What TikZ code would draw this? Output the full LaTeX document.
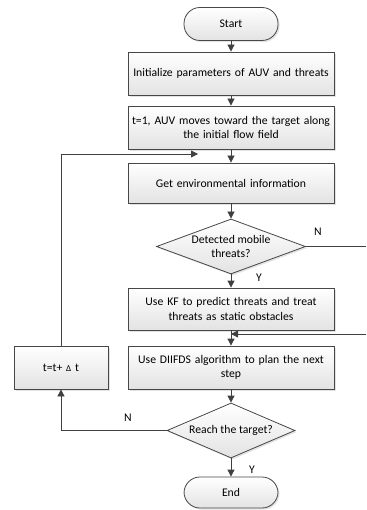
\documentclass[tikz,border=0pt]{standalone}
\usepackage{fontspec}
\setmainfont{Carlito}
\usepackage{tikz}
\usetikzlibrary{arrows.meta, shapes.geometric, shadows}

\tikzset{
    base/.style={draw=black!72, line width=0.8pt, top color=white, bottom color=black!11,
        drop shadow={shadow xshift=1.6pt, shadow yshift=-1.6pt, fill=black!18, opacity=0.6},
        align=center, font=\fontsize{11.7}{14.5}\selectfont, inner sep=0pt},
    procbox/.style={base, rectangle, minimum width=206pt, minimum height=43pt, text width=200pt},
    termbox/.style={base, rectangle, rounded corners=16pt, minimum width=94pt, minimum height=33pt},
    decide/.style={base, diamond, aspect=2.6},
    flow/.style={draw=black!75, line width=0.8pt, -{Triangle[width=7pt,length=7pt]}},
    lbl/.style={font=\fontsize{11.7}{14}\selectfont}
}

\begin{document}
\begin{tikzpicture}[x=1pt, y=-1pt]
    \useasboundingbox (0,0) rectangle (366,510);

    % main column
    \node[termbox] (start) at (231, 24) {Start};
    \node[procbox] (init) at (231, 73.5) {Initialize parameters of AUV and threats};
    \node[procbox] (move) at (231, 127.5) {t=1, AUV moves toward the target along\\ the initial flow field};
    \node[procbox, minimum height=40pt] (env) at (231, 183) {Get environmental information};
    \node[decide, minimum width=149pt, minimum height=55pt] (detect) at (231, 246.5) {Detected mobile\\ threats?};
    \node[procbox, minimum height=42pt] (kf) at (231, 309) {Use KF to predict threats and treat\\ threats as static obstacles};
    \node[procbox] (plan) at (231, 367.5) {Use DIIFDS algorithm to plan the next\\ step};
    \node[decide, minimum width=128pt, minimum height=55pt] (reach) at (231, 430.5) {Reach the target?};
    \node[termbox, minimum height=31pt] (end) at (231, 492.5) {End};

    % loop box
    \node[procbox, minimum width=94pt, text width=90pt] (step) at (61, 367.5) {t=t+ {\small Δ} t};

    % free ends of the loop lines
    \coordinate (nout) at (366, 246.5);
    \coordinate (nin) at (366, 334);
    \coordinate (merge) at (231, 334);
    \coordinate (back) at (198, 154);

    % straight flow
    \draw[flow] (start) -- (init);
    \draw[flow] (init) -- (move);
    \draw[flow] (move) -- (env);
    \draw[flow] (env) -- (detect);
    \draw[flow] (detect) -- (kf);
    \draw[flow] (kf) -- (plan);
    \draw[flow] (plan) -- (reach);
    \draw[flow] (reach) -- (end);

    % branches
    \draw[flow, -] (detect.east) -- (nout);
    \draw[flow] (nin) -- (merge);
    \draw[flow] (reach.west) -| (step.south);
    \draw[flow] (step.north) |- (back);

    % branch labels
    \node[lbl] (ndetect) at (318, 232) {N};
    \node[lbl] (ydetect) at (259, 278) {Y};
    \node[lbl] (nreach) at (128, 418) {N};
    \node[lbl] (yreach) at (252, 470) {Y};
\end{tikzpicture}
\end{document}
